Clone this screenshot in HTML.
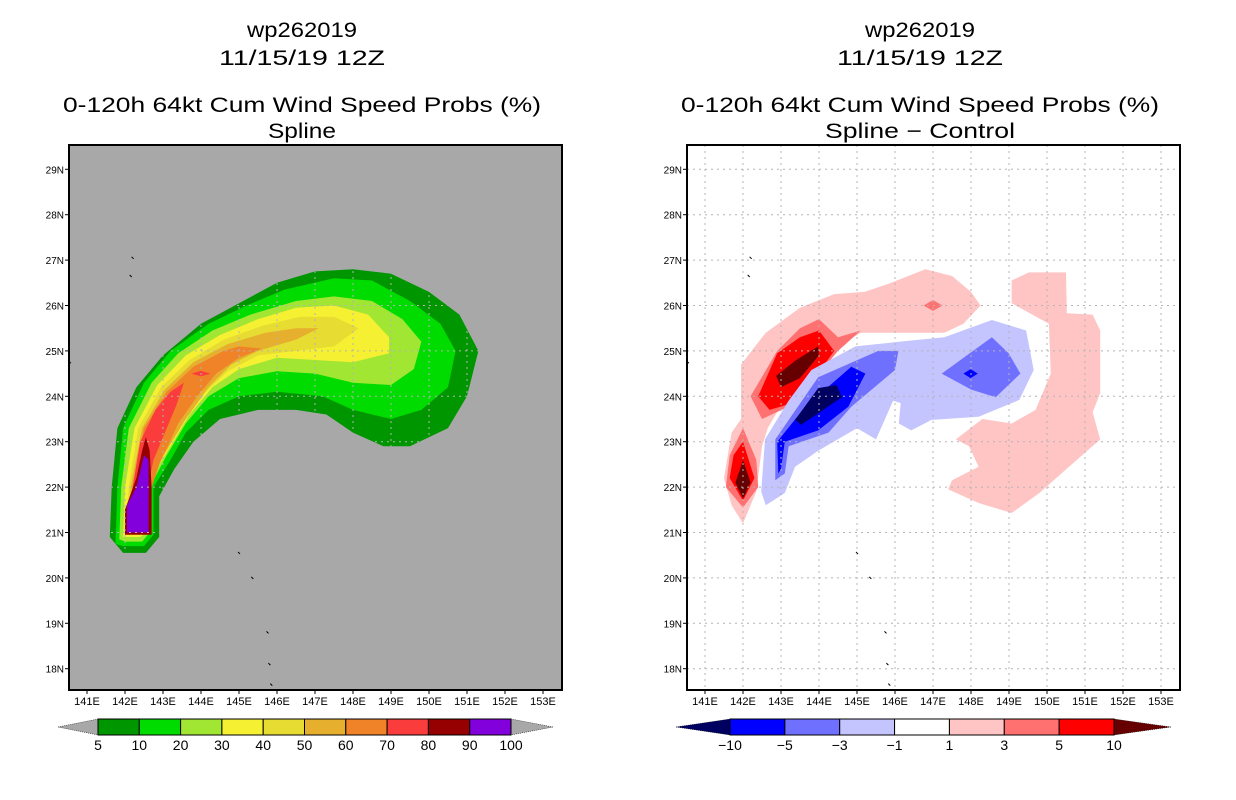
<!DOCTYPE html>
<html><head><meta charset="utf-8"><style>
body{margin:0;background:#fff}
svg{display:block}
text{font-family:"Liberation Sans",sans-serif;fill:#000}
</style></head><body>
<svg id="chart" width="1236" height="800" viewBox="0 0 1236 800" xmlns="http://www.w3.org/2000/svg"></svg>
<script>
// ---- data ----
const lonTicks=[141,142,143,144,145,146,147,148,149,150,151,152,153];
const latTicks=[18,19,20,21,22,23,24,25,26,27,28,29];
const leftLevels=[5,10,20,30,40,50,60,70,80,90,100];
const leftColors=["#009600","#00dc00","#a0e632","#f5f032","#e6dc32","#e6af2d","#f08228","#fa3c3c","#960000","#8200dc"];
const rightLevels=[-10,-5,-3,-1,1,3,5,10];
const rightColors=["#000060","#0000ff","#7070ff","#c4c4ff","#ffffff","#ffc4c4","#ff7070","#ff0000","#660000"];
const p5=[[141.6,20.9],[141.65,22],[141.8,23.3],[142.3,24.2],[143,24.9],[144,25.6],[145,26.05],[146,26.5],[147,26.75],[148,26.8],[149,26.7],[150,26.3],[150.8,25.8],[151.3,25],[151,24],[150.5,23.3],[149.5,22.9],[148.8,22.9],[148,23.2],[147.3,23.6],[146.5,23.7],[145.5,23.7],[144.5,23.5],[143.8,23],[143.3,22.4],[142.9,21.8],[142.9,20.9],[142.55,20.55],[141.95,20.55]];
const p10=[[141.75,20.75],[141.8,22],[141.95,23.3],[142.5,24.3],[143.2,25],[144.2,25.6],[145.2,26],[146.2,26.35],[147.5,26.6],[148.5,26.55],[149.5,26.1],[150.3,25.6],[150.7,25],[150.5,24.2],[149.8,23.7],[149,23.5],[148,23.7],[147.2,24],[146,24.1],[145,24],[144.2,23.7],[143.6,23.2],[143.2,22.6],[142.75,22],[142.75,20.95],[142.5,20.7],[141.95,20.7]];
const p20=[[141.85,20.85],[141.9,22],[142.1,23.3],[142.7,24.3],[143.4,24.95],[144.3,25.45],[145.3,25.8],[146.5,26.1],[147.5,26.2],[148.5,26.1],[149.3,25.7],[149.8,25.2],[149.6,24.6],[149,24.25],[148,24.3],[147,24.5],[146,24.55],[145,24.4],[144.2,24],[143.6,23.4],[143.1,22.7],[142.65,22],[142.65,21],[142.45,20.8],[142,20.8]];
const p30=[[141.95,20.9],[142,22],[142.25,23.3],[142.85,24.25],[143.6,24.9],[144.5,25.35],[145.5,25.7],[146.5,25.95],[147.5,26],[148.4,25.8],[148.95,25.3],[148.95,24.95],[148,24.75],[147,24.8],[146,24.85],[145,24.6],[144.3,24.2],[143.7,23.6],[143.2,22.9],[142.6,22.1],[142.55,21],[142.4,20.9]];
const p40=[[142,21],[142.1,22],[142.35,23.3],[142.95,24.2],[143.7,24.8],[144.6,25.25],[145.6,25.55],[146.6,25.75],[147.5,25.75],[148.15,25.5],[147.5,25.1],[146.5,25],[145.5,24.9],[144.7,24.55],[144,24],[143.4,23.3],[142.7,22.3],[142.5,21.1]];
const p50=[[142.05,21.05],[142.15,22],[142.45,23.3],[143.05,24.15],[143.8,24.75],[144.7,25.15],[145.7,25.4],[146.5,25.5],[147.1,25.5],[146.5,25.25],[145.5,25],[144.8,24.7],[144.2,24.2],[143.6,23.5],[142.8,22.4],[142.45,21.15]];
const p60=[[142.1,21.1],[142.2,22],[142.5,23.3],[143.1,24.1],[143.8,24.65],[144.6,25],[145,25.1],[145.6,25.05],[145,24.85],[144.4,24.5],[143.9,24],[143.4,23.4],[142.9,22.5],[142.4,21.2]];
const p70=[[142.1,21.15],[142.2,22],[142.4,23],[142.8,23.7],[143.2,24.1],[143.55,24.3],[143.35,23.8],[143.1,23.3],[142.75,22.6],[142.4,21.2]];
const p70b=[[143.75,24.5],[144,24.56],[144.25,24.5],[144,24.44]];
const p80=[[142,20.95],[142,21.5],[142.3,22.2],[142.45,22.8],[142.55,23.1],[142.65,22.8],[142.7,22],[142.7,20.95]];
const p90=[[142.05,21],[142.05,21.6],[142.3,22],[142.5,22.7],[142.62,22.6],[142.62,21]];
const leftContours=[[0,p5],[1,p10],[2,p20],[3,p30],[4,p40],[5,p50],[6,p60],[7,p70],[7,p70b],[8,p80],[9,p90]];
const rPinkA=[[141.5,22.2],[141.7,23.2],[141.95,23.5],[141.95,24.7],[142.6,25.4],[143.5,25.95],[144.4,26.25],[145.2,26.3],[145.9,26.5],[146.8,26.8],[147.5,26.65],[148,26.3],[148.25,26],[147.8,25.6],[147.3,25.4],[146,25.4],[145.1,25.4],[144.3,25],[143.6,24.3],[143,23.8],[142.65,23.3],[142.5,22.9],[142.35,21.9],[142,21.2],[141.7,21.6]];
const rPinkB=[[149.07,26.55],[149.52,26.73],[150.5,26.73],[150.52,25.83],[151.2,25.8],[151.4,25.45],[151.4,24.07],[151.2,23.65],[151.4,23.05],[150.58,22.45],[149.8,21.87],[149.07,21.43],[148.2,21.65],[147.4,21.95],[147.5,22.15],[148.2,22.45],[147.95,22.9],[147.6,23.05],[148.3,23.5],[149.07,23.4],[149.7,23.7],[150.1,24.5],[150.05,25.6],[149.07,26.05]];
const rRed3a=[[142.2,24],[142.9,25],[143.5,25.5],[144,25.7],[144.5,25.3],[145.1,25.45],[144.5,25],[143.8,24.3],[143.4,23.85],[142.5,23.5]];
const rRed3b=[[146.75,26],[147,26.12],[147.25,26],[147,25.88]];
const rRed3c=[[142,23.3],[142.35,22.6],[142.4,22],[142,21.55],[141.55,22],[141.65,22.7]];
const rRed5a=[[142.4,24],[142.9,24.95],[143.5,25.3],[144,25.45],[144.4,25],[143.8,24.3],[143.3,23.85],[142.7,23.7]];
const rRed5b=[[142,23],[142.3,22.2],[142,21.7],[141.65,22.2],[141.75,22.7]];
const rRed10a=[[142.87,24.45],[143.4,24.8],[143.98,25.1],[144,24.9],[143.5,24.4],[143,24.2]];
const rRed10b=[[142,22.6],[142.2,22.1],[142,21.75],[141.8,22.1]];
const rBlue1=[[142.48,21.9],[142.58,23.05],[143.2,23.9],[143.8,24.58],[144.96,25.1],[146.1,25.2],[147.3,25.3],[148.55,25.68],[149.45,25.45],[149.65,24.58],[149.27,23.92],[148.2,23.55],[146.96,23.48],[146.43,23.25],[146.1,23.4],[146.15,23.85],[145.95,23.9],[145.5,23.05],[145,23.3],[143.98,22.8],[143.37,22.45],[143.1,21.87],[142.6,21.6]];
const rBlue3a=[[142.85,22.15],[142.85,23.05],[143.98,24.42],[145.56,25],[146.09,25],[146,24.58],[144.85,23.77],[144.25,23.2],[143.2,22.9],[143.1,22.3]];
const rBlue3b=[[147.23,24.5],[148.55,25.3],[148.99,24.95],[149.3,24.5],[148.65,23.98],[148,24.15]];
const rBlue5a=[[142.93,22.3],[142.9,23],[143.64,23.77],[144.85,24.65],[145.22,24.5],[144.77,23.77],[143.98,23.25],[143.1,23],[143,22.4]];
const rBlue5b=[[147.8,24.5],[147.99,24.6],[148.18,24.5],[147.99,24.4]];
const rBlue10=[[143.37,23.48],[143.98,24.18],[144.46,24.25],[144.6,23.98],[143.53,23.37]];
const rightContours=[[5,rPinkA],[5,rPinkB],[6,rRed3a],[6,rRed3b],[6,rRed3c],[7,rRed5a],[7,rRed5b],[8,rRed10a],[8,rRed10b],[3,rBlue1],[2,rBlue3a],[2,rBlue3b],[1,rBlue5a],[1,rBlue5b],[0,rBlue10]];
const islands=[[142.2,27.05],[142.15,26.65],[140.55,24.75],[145.0,20.55],[145.35,20.0],[145.75,18.8],[145.8,18.1],[145.85,17.65]];

const NS="http://www.w3.org/2000/svg";
const svg=document.getElementById('chart');
function mk(tag,attrs,parent){const e=document.createElementNS(NS,tag);for(const k in attrs)e.setAttribute(k,attrs[k]);(parent||svg).appendChild(e);return e;}
function panel(ox,o){
  const x0=ox, x1=ox+493, y0=145, y1=690;
  const sx=lon=>ox+18+(lon-141)*38;
  const sy=lat=>169.3+(29-lat)*45.4;
  const g=mk('g',{});
  
  
  const cid='clip'+ox;
  const cp=mk('clipPath',{id:cid},g);mk('rect',{x:x0,y:y0,width:x1-x0,height:y1-y0},cp);
  const bg=mk('rect',{x:x0,y:y0,width:x1-x0,height:y1-y0,fill:o.bg},g);
  
  
  const cg=mk('g',{'clip-path':'url(#'+cid+')'},g);
  const pts=p=>p.map(q=>sx(q[0]).toFixed(1)+','+sy(q[1]).toFixed(1)).join(' ');
  o.contours.forEach(c=>{
    const e=mk('polygon',{points:pts(c[1]),fill:o.colors[c[0]]},cg);
    
    
  });
  let gridParent=cg;
  if(o.gridClip){const gc=mk('clipPath',{id:'gc'+ox},g);mk('polygon',{points:pts(o.gridClip)},gc);gridParent=mk('g',{'clip-path':'url(#gc'+ox+')'},cg);}
  lonTicks.forEach(l=>{const e=mk('line',{x1:sx(l),x2:sx(l),y1:y0,y2:y1,stroke:'#b4b4b4','stroke-dasharray':'2,4','stroke-width':1},gridParent);
    });
  latTicks.forEach(l=>{const e=mk('line',{x1:x0,x2:x1,y1:sy(l),y2:sy(l),stroke:'#b4b4b4','stroke-dasharray':'2,4','stroke-width':1},gridParent);
    });
  islands.forEach(p=>{const e=mk('line',{x1:sx(p[0])-1,y1:sy(p[1])-1,x2:sx(p[0])+1,y2:sy(p[1])+1,stroke:'#000','stroke-width':1},cg);
    });
  const fr=mk('rect',{x:x0,y:y0,width:x1-x0,height:y1-y0,fill:'none',stroke:'#000','stroke-width':2},g);
  
  lonTicks.forEach(l=>{mk('line',{x1:sx(l),x2:sx(l),y1:y1,y2:y1+4,stroke:'#000'},g);
    const t=mk('text',{x:sx(l),y:705,'font-size':11,'text-anchor':'middle'},g);t.textContent=l+'E';
    });
  latTicks.forEach(l=>{mk('line',{x1:x0-4,x2:x0,y1:sy(l),y2:sy(l),stroke:'#000'},g);
    const t=mk('text',{x:x0-5,y:sy(l)+4,'font-size':10,'text-anchor':'end'},g);t.textContent=l+'N';
    });
  const tc=ox+233;
  [['wp262019',37,110],['11/15/19 12Z',65,166],['0-120h 64kt Cum Wind Speed Probs (%)',112,478],[o.sub,138,o.subW]].forEach(r=>{
    const t=mk('text',{x:tc,y:r[1],'font-size':21,'text-anchor':'middle',textLength:r[2],lengthAdjust:'spacingAndGlyphs'},g);t.textContent=r[0];
    });
  const cb=o.cb, n=o.colors.length-(o.ends?2:0);
  const bw=(cb.b1-cb.b0)/n;
  const bar=mk('g',{},g);
  const endL=o.ends?o.colors[0]:'#a8a8a8', endR=o.ends?o.colors[o.colors.length-1]:'#a8a8a8';
  mk('polygon',{points:`${cb.t0},727 ${cb.b0},719 ${cb.b0},735`,fill:endL,stroke:'#000','stroke-width':0.5,'stroke-dasharray':'1,1'},bar);
  mk('polygon',{points:`${cb.t1},727 ${cb.b1},719 ${cb.b1},735`,fill:endR,stroke:'#000','stroke-width':0.5,'stroke-dasharray':'1,1'},bar);
  for(let i=0;i<n;i++){const e=mk('rect',{x:cb.b0+i*bw,y:719,width:bw,height:16,fill:o.colors[i+(o.ends?1:0)],stroke:'#000','stroke-width':1},bar);
    }
  o.levels.forEach((lv,i)=>{const t=mk('text',{x:cb.b0+i*bw,y:750,'font-size':14,'text-anchor':'middle'},bar);t.textContent=lv<0?'\u2212'+(-lv):lv;
    });
}
panel(69,{name:'spline-panel',bg:'#a8a8a8',colors:leftColors,contours:leftContours,gridClip:p5,sub:'Spline',subW:68,levels:leftLevels,ends:false,cb:{t0:58,b0:98,b1:511,t1:553}});
panel(687,{name:'difference-panel',bg:'#ffffff',colors:rightColors,contours:rightContours,gridClip:null,sub:'Spline \u2212 Control',subW:190,levels:rightLevels,ends:true,cb:{t0:676,b0:730,b1:1114,t1:1171}});
</script>
</body></html>
